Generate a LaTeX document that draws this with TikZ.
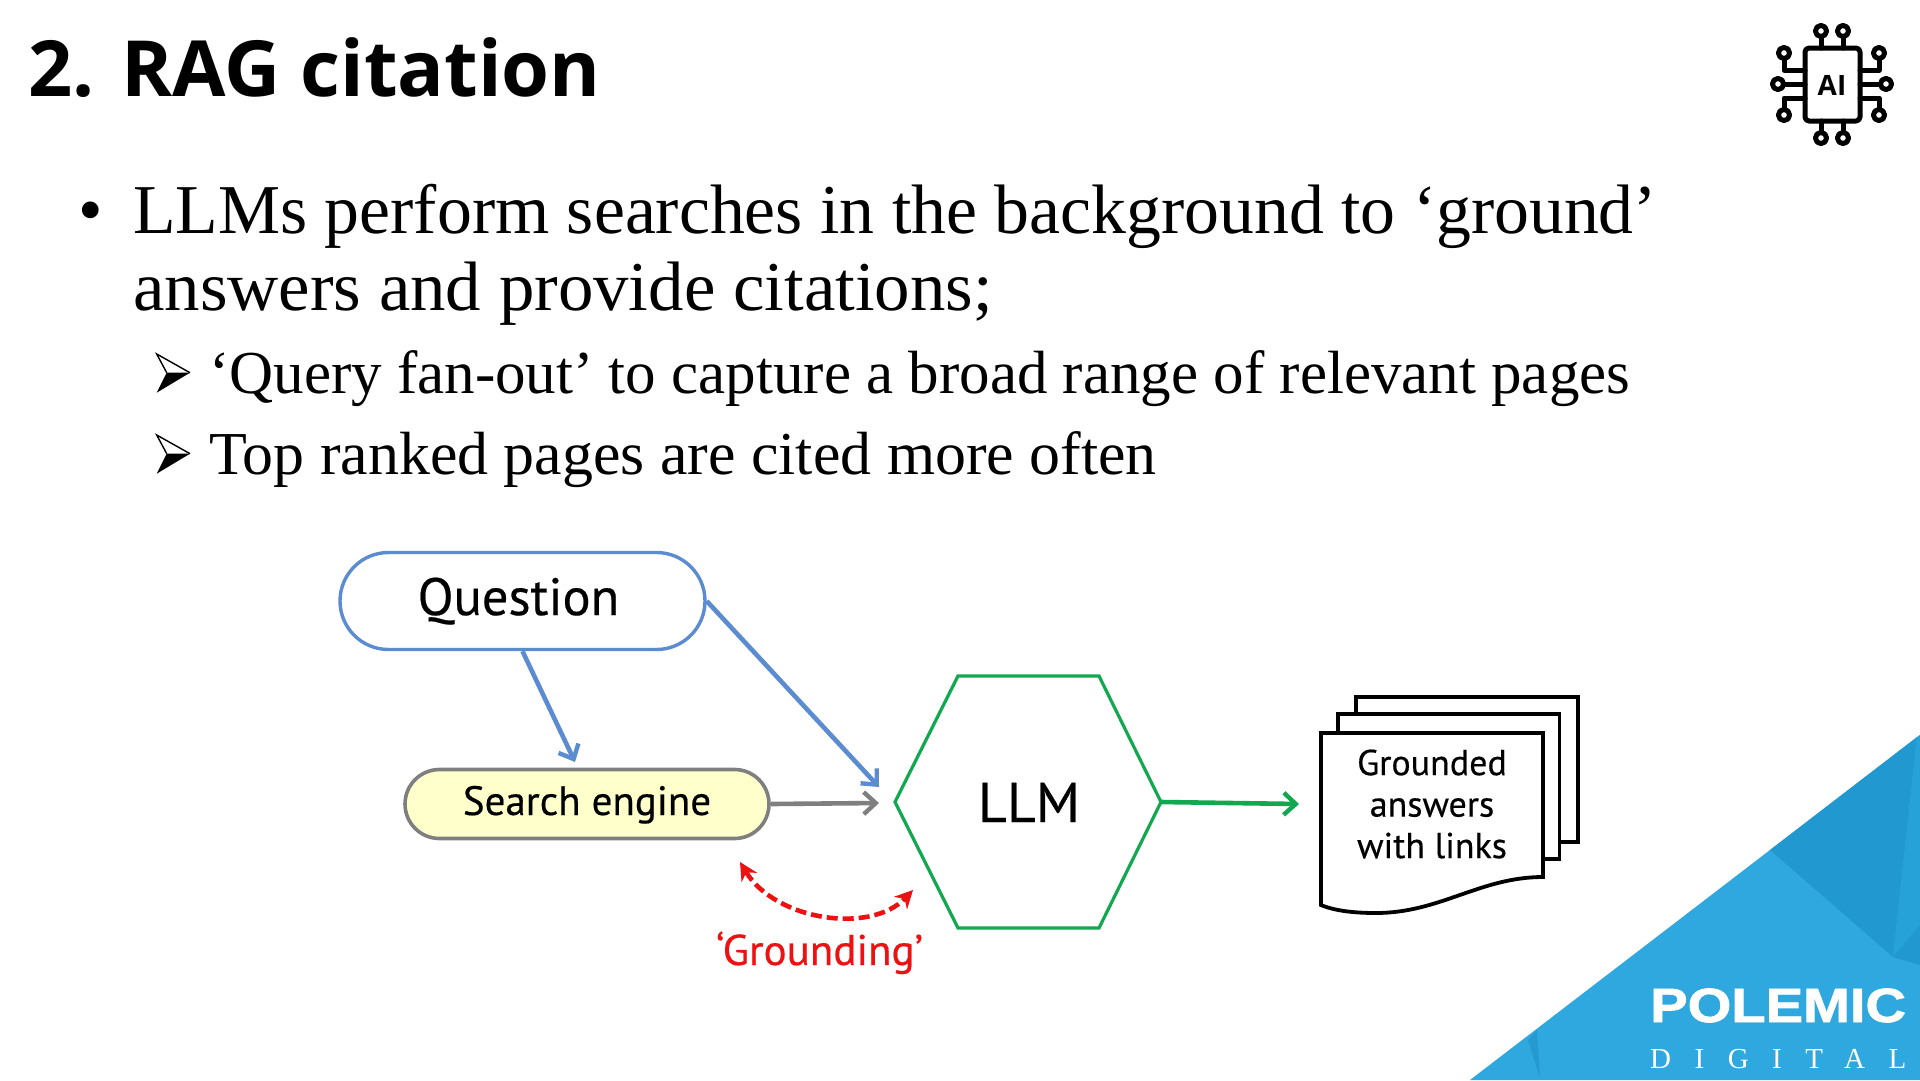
\documentclass[tikz,border=0pt]{standalone}
\usepackage{fontspec}
\usetikzlibrary{arrows.meta,shapes.misc}
\setmainfont{Liberation Serif}
\newfontfamily\titlefont{Open Sans}
\newfontfamily\diagfont[FakeBold=0.4]{PT Sans}
\newfontfamily\logofont[BoldFeatures={FakeBold=1.5}]{Liberation Sans}
\newfontfamily\logoserif[LetterSpace=81]{Liberation Serif}
\newcommand{\fs}[1]{\fontsize{#1}{#1}\selectfont}
\definecolor{qblue}{HTML}{5B8BD0}
\definecolor{sgray}{HTML}{7F7F7F}
\definecolor{syellow}{HTML}{FFFFCC}
\definecolor{lgreen}{HTML}{12A850}
\definecolor{gred}{HTML}{EE1111}
\definecolor{tribg}{HTML}{2EA8DE}
\definecolor{tridark}{HTML}{2198CF}
\definecolor{trimid}{HTML}{27A2D8}
\definecolor{trislit}{HTML}{2599D0}
\tikzset{
  x=1pt,y=-1pt,
  bodytext/.style={anchor=base west,inner sep=0pt,font=\fs{70}},
  subtext/.style={anchor=base west,inner sep=0pt,font=\fs{61}},
  pill/.style={rounded rectangle,draw,inner sep=0pt,anchor=center,font=\diagfont},
  diagtext/.style={inner sep=0pt,font=\diagfont},
  flow/.style={line width=4.6pt,-{Straight Barb[length=12pt,width=22pt,line width=4.4pt]}},
  chipline/.style={line width=5pt,line cap=round,line join=round},
  pagebox/.style={draw=black,fill=white,line width=3.8pt,line join=miter},
  subarrow/.pic={
    \fill[black] (166.7,372.7) -- (190,372.7) -- (156.7,392.7) -- cycle;
    \draw[black,line width=1.4pt,line join=miter] (166.7,372.7) -- (156.7,354) -- (190,372.7);
  },
}
\begin{document}
\begin{tikzpicture}
\useasboundingbox (0,0) rectangle (1920,1080);
% corner
\fill[tribg] (1920,735) -- (1920,1080) -- (1470,1080) -- cycle;
\fill[tridark] (1770,850) -- (1917,737) -- (1893,957) -- cycle;
\fill[trimid] (1917,737) -- (1920,735) -- (1920,925) -- (1893,957) -- cycle;
\fill[tridark] (1893,957) -- (1920,925) -- (1920,965) -- cycle;
\fill[trislit] (1528,1040) -- (1537,1030) -- (1540,1078) -- cycle;
\node[anchor=base west,inner sep=0pt,text=white,font=\logofont\bfseries\fs{48}] (polemic) at (1650,1022) {\scalebox{1.17}[1]{POLEMIC}};
\node[anchor=base west,inner sep=0pt,text=white,font=\logoserif\fs{29}] (digital) at (1650,1068) {DIGITAL};
% title
\node[anchor=base west,inner sep=0pt,font=\titlefont\bfseries\fs{77.5}] (title) at (28,96) {2. RAG citation};
% body
\node[anchor=base west,inner sep=0pt,font=\fs{70}] (b1) at (78,233) {•};
\node[bodytext] (l1) at (133,233) {\scalebox{0.996}[1]{LLMs perform searches in the background to ‘ground’}};
\node[bodytext] (l2) at (133,310) {\scalebox{1.012}[1]{answers and provide citations;}};
\pic at (0,0) {subarrow};
\node[subtext] (l3) at (209,393) {‘Query fan-out’ to capture a broad range of relevant pages};
\pic at (0,81) {subarrow};
\node[subtext] (l4) at (209,474) {\scalebox{1.0145}[1]{Top ranked pages are cited more often}};
% chip icon
\begin{scope}[chipline]
\draw (1821,38) -- (1821,48) (1843,38) -- (1843,48);
\draw (1821,121) -- (1821,131) (1843,121) -- (1843,131);
\draw (1805,70) -- (1784,70) -- (1784,60);
\draw (1805,84) -- (1785,84);
\draw (1805,98) -- (1784,98) -- (1784,108);
\draw (1860,70) -- (1879,70) -- (1879,60);
\draw (1860,84) -- (1879,84);
\draw (1860,98) -- (1879,98) -- (1879,108);
\draw[rounded corners=4pt] (1805,48) rectangle (1860,121);
\foreach \p in {(1821,31),(1843,31),(1821,138),(1843,138),(1784,53),(1778,84),(1784,115),(1879,53),(1886,84),(1879,115)}
  \draw \p circle (5.6);
\end{scope}
\node[inner sep=0pt,font=\titlefont\bfseries\fs{28}] (ai) at (1832,85) {AI};
% diagram
\node[pill,draw=qblue,line width=3.4pt,minimum width=365pt,minimum height=97pt,font=\diagfont\fs{52.5},text height=40pt,text depth=12pt] (Q) at (522.5,601) {\hspace*{-8pt}Question};
\node[pill,draw=sgray,fill=syellow,line width=3.6pt,minimum width=364pt,minimum height=69pt,font=\diagfont\fs{41},text height=32pt,text depth=10pt] (S) at (587,804) {Search engine};
\coordinate (qsEnd) at (575,762);
\coordinate (qlEnd) at (879,787);
\coordinate (slEnd) at (879,803);
\coordinate (glEnd) at (1299,804);
\draw[flow,draw=qblue] (Q.south) -- (qsEnd);
\draw[flow,draw=qblue] (Q.east) -- (qlEnd);
\draw[flow,draw=sgray] (S.east) -- (slEnd);
\coordinate (llmE) at (1161,802);
\coordinate (llmW) at (895,802);
\draw[draw=lgreen,line width=3.2pt,line join=miter] (llmW) -- (958,676) -- (1099,676) -- (llmE) -- (1099,928) -- (958,928) -- cycle;
\node[anchor=base,diagtext,font=\diagfont\fs{56}] (llm) at (1029,822) {LLM};
\draw[flow,draw=lgreen] (llmE) -- (glEnd);
\coordinate (gA) at (740,862);
\coordinate (gB) at (913,890);
\draw[draw=gred,line width=4.6pt,dash pattern=on 11pt off 5pt,{Stealth[length=18pt,width=18pt]}-{Stealth[length=18pt,width=18pt]}] (gA) .. controls (775,920) and (870,935) .. (gB);
\node[anchor=base,diagtext,font=\diagfont\fs{43},text=gred] (gt) at (819.5,965) {‘Grounding’};
% pages
\draw[pagebox] (1356,697) rectangle (1578,842);
\draw[pagebox] (1338,714) rectangle (1559.5,859);
\draw[pagebox] (1321,733) -- (1543,733) -- (1543,877) .. controls (1480,877) and (1440,913) .. (1376,913) .. controls (1355,913) and (1335,911) .. (1321,905) -- cycle;
\node[diagtext,font=\diagfont\fontsize{36}{41.5}\selectfont,align=center] (doc) at (1432,804) {Grounded\\answers\\with links};
\end{tikzpicture}
\end{document}
